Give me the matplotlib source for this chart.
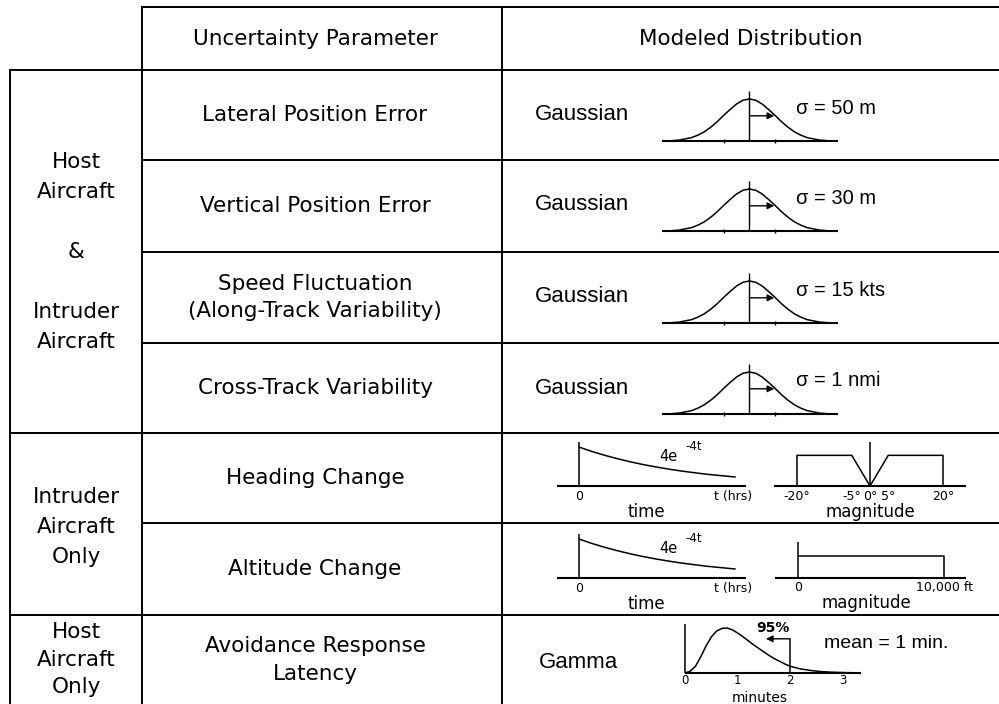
import matplotlib
matplotlib.use("Agg")
import matplotlib.pyplot as plt

#------- dados -------#

col_headers = ["Uncertainty Parameter", "Modeled Distribution"]

group_lines = [
    ["Host", "Aircraft", "", "&", "", "Intruder", "Aircraft"],
    ["Intruder", "Aircraft", "Only"],
    ["Host", "Aircraft", "Only"],
]

param_labels = [
    ["Lateral Position Error"],
    ["Vertical Position Error"],
    ["Speed Fluctuation", "(Along-Track Variability)"],
    ["Cross-Track Variability"],
    ["Heading Change"],
    ["Altitude Change"],
    ["Avoidance Response", "Latency"],
]

gauss_name = "Gaussian"
sigma_labels = ["σ = 50 m", "σ = 30 m", "σ = 15 kts", "σ = 1 nmi"]

# curva gaussiana (em desvios-padrão, altura relativa ao pico)
gauss_z = [-3.0, -2.75, -2.5, -2.25, -2.0, -1.75, -1.5, -1.25, -1.0, -0.75, -0.5, -0.25, 0.0,
           0.25, 0.5, 0.75, 1.0, 1.25, 1.5, 1.75, 2.0, 2.25, 2.5, 2.75, 3.0]
gauss_h = [0.01, 0.02, 0.05, 0.08, 0.14, 0.22, 0.33, 0.46, 0.61, 0.75, 0.88, 0.97, 1.0,
           0.97, 0.88, 0.75, 0.61, 0.46, 0.33, 0.22, 0.14, 0.08, 0.05, 0.02, 0.01]
gauss_ticks = [-1, 1]
sigma_arrow = 0.97

# 4e^-4t (tempo em horas)
exp_t = [0, 0.03, 0.06, 0.09, 0.12, 0.15, 0.18, 0.21, 0.24, 0.27, 0.30, 0.33, 0.366]
exp_y = [4.0, 3.55, 3.15, 2.8, 2.48, 2.2, 1.95, 1.73, 1.53, 1.36, 1.2, 1.07, 0.92]

# mudanca de rumo (graus)
heading_deg = [-20, -20, -5, 0, 5, 20, 20]
heading_h = [0, 1, 1, 0, 1, 1, 0]
heading_ticks = [-20, -5, 0, 5, 20]
heading_tick_labels = ["-20°", "-5°", "0°", "5°", "20°"]

# mudanca de altitude (pes)
alt_ft = [0, 10000, 10000]
alt_h = [1, 1, 0]
alt_tick_labels = ["0", "10,000 ft"]

# latencia (gamma, minutos)
gamma_min = [0, 0.1, 0.2, 0.3, 0.4, 0.5, 0.6, 0.7, 0.8, 0.9, 1.0, 1.1, 1.2, 1.3, 1.4, 1.5,
             1.6, 1.7, 1.8, 1.9, 2.0, 2.2, 2.4, 2.6, 2.8, 3.0, 3.2]
gamma_h = [0, 0.04, 0.15, 0.36, 0.6, 0.8, 0.93, 0.99, 1.0, 0.96, 0.89, 0.81, 0.72, 0.63, 0.55, 0.47,
           0.39, 0.32, 0.26, 0.2, 0.15, 0.09, 0.055, 0.03, 0.018, 0.01, 0.005]
gamma_ticks = [0, 1, 2, 3]
gamma_p95 = 2.0
gamma_name = "Gamma"
gamma_mean_label = "mean = 1 min."

#------- layout (pixels) -------#

W, H = 999, 704
row_tops = [70, 160, 252, 343, 433, 523, 615]
GENEVA = "DejaVu Sans"
HELV = "Liberation Sans"
LW = 1.4

fig = plt.figure(figsize=(W / 100, H / 100), dpi=100)
ax = fig.add_axes([0, 0, 1, 1])
ax.set_xlim(0, W)
ax.set_ylim(H, 0)
ax.axis("off")


def inset(x0, x1, y_base, y_top, xlim, ylim):
    a = fig.add_axes([x0 / W, (H - y_base) / H, (x1 - x0) / W, (y_base - y_top) / H])
    a.set_xlim(xlim)
    a.set_ylim(ylim)
    a.axis("off")
    return a


def line(a, xs, ys, lw=1.1):
    a.plot(xs, ys, color="black", lw=lw, clip_on=False, solid_capstyle="butt")


# grade da tabela
for y, x0 in [(7, 142), (70, 10), (160, 142), (252, 142), (343, 142), (433, 10), (523, 142), (615, 10)]:
    ax.plot([x0, W], [y, y], color="black", lw=LW)
for x, y0 in [(10, 70), (142, 7), (502, 7)]:
    ax.plot([x, x], [y0, H], color="black", lw=LW)

# cabecalho
ax.text(315, 39, col_headers[0], ha="center", va="center", fontsize=15.5, family=GENEVA)
ax.text(751, 39, col_headers[1], ha="center", va="center", fontsize=15.5, family=GENEVA)

# grupos
group_starts = [162, 497, 632]
group_steps = [30, 30, 27.5]
for lines, y0, dy in zip(group_lines, group_starts, group_steps):
    for i, s in enumerate(lines):
        ax.text(76, y0 + i * dy, s, ha="center", va="center", fontsize=15.5, family=GENEVA)

# parametros
for k, lines in enumerate(param_labels):
    top = row_tops[k]
    bot = row_tops[k + 1] if k + 1 < len(row_tops) else H
    mid = (top + bot) / 2
    if k == 6:
        mid = 660
    n = len(lines)
    for i, s in enumerate(lines):
        ax.text(315, mid + (i - (n - 1) / 2) * 27, s, ha="center", va="center",
                fontsize=15.5, family=GENEVA)

# gaussianas
for k, lab in enumerate(sigma_labels):
    top = row_tops[k]
    base = top + 71
    ax.text(535, top + 45, gauss_name, ha="left", va="center", fontsize=16, family=HELV)
    ax.text(796, top + 38, lab, ha="left", va="center", fontsize=14.5, family=HELV)
    g = inset(662, 838, base, base - 52.5, (-3.4, 3.45), (0, 1.25))
    line(g, [-3.4, 3.45], [0, 0], lw=1.5)
    line(g, gauss_z, gauss_h)
    line(g, [0, 0], [0, 1.2], lw=1.0)
    for z in gauss_ticks:
        line(g, [z, z], [-0.05, 0.05], lw=1.0)
    g.annotate("", xy=(sigma_arrow, 0.6), xytext=(0, 0.6),
               arrowprops=dict(arrowstyle="-|>", color="black", lw=1.0,
                               mutation_scale=10, shrinkA=0, shrinkB=0))

# exponenciais (rumo e altitude)
for top in [433, 523]:
    base = top + 53 if top == 433 else top + 55
    e = inset(557, 746, base, base - 50, (-0.051, 0.39), (0, 50 / 9.75))
    line(e, [-0.051, 0.39], [0, 0], lw=1.5)
    line(e, [0, 0], [0, 4.5], lw=1.1)
    line(e, exp_t, exp_y)
    e.text(0, -1.1, "0", ha="center", va="center", fontsize=9, family=GENEVA)
    e.text(0.36, -1.1, "t (hrs)", ha="center", va="center", fontsize=9, family=GENEVA)
    e.text(0.157, -2.65, "time", ha="center", va="center", fontsize=12, family=GENEVA)
    e.text(0.208, 3.0, "4e", ha="center", va="center", fontsize=10.5, family=GENEVA)
    e.text(0.268, 4.0, "-4t", ha="center", va="center", fontsize=8.5, family=GENEVA)

# magnitude do rumo
hm = inset(774, 966, 486, 486 - 46, (-26.3, 26.3), (0, 1.5))
line(hm, [-26.3, 26.3], [0, 0], lw=1.5)
line(hm, heading_deg, heading_h)
line(hm, [0, 0], [0, 1.45])
for v, s in zip(heading_ticks, heading_tick_labels):
    hm.text(v, -0.35, s, ha="center", va="center", fontsize=9, family=GENEVA)
hm.text(0, -0.85, "magnitude", ha="center", va="center", fontsize=12, family=GENEVA)

# magnitude da altitude
am = inset(775, 966, 578, 578 - 40, (-1575, 11500), (0, 40 / 22))
line(am, [-1575, 11500], [0, 0], lw=1.5)
line(am, [0, 0], [0, 1.64])
line(am, alt_ft, alt_h)
am.text(0, -0.42, alt_tick_labels[0], ha="center", va="center", fontsize=9, family=GENEVA)
am.text(10000, -0.42, alt_tick_labels[1], ha="center", va="center", fontsize=9, family=GENEVA)
am.text(4700, -1.14, "magnitude", ha="center", va="center", fontsize=12, family=GENEVA)

# gamma
ax.text(539, 662, gamma_name, ha="left", va="center", fontsize=16, family=HELV)
ax.text(824, 643, gamma_mean_label, ha="left", va="center", fontsize=14, family=HELV)
gm = inset(685, 861, 673, 673 - 50, (0, 3.35), (0, 50 / 45))
line(gm, [0, 3.35], [0, 0], lw=1.5)
line(gm, [0, 0], [0, 1.09])
line(gm, gamma_min, gamma_h)
line(gm, [gamma_p95, gamma_p95], [0, 0.76])
gm.annotate("", xy=(1.54, 0.76), xytext=(gamma_p95, 0.76),
            arrowprops=dict(arrowstyle="-|>", color="black", lw=1.0,
                            mutation_scale=10, shrinkA=0, shrinkB=0))
gm.text(1.68, 1.0, "95%", ha="center", va="center", fontsize=10, fontweight="bold", family=GENEVA)
for t in gamma_ticks:
    gm.text(t, -0.17, str(t), ha="center", va="center", fontsize=8.5, family=GENEVA)
gm.text(1.43, -0.55, "minutes", ha="center", va="center", fontsize=10, family=GENEVA)

fig.savefig("out.png", dpi=100)
